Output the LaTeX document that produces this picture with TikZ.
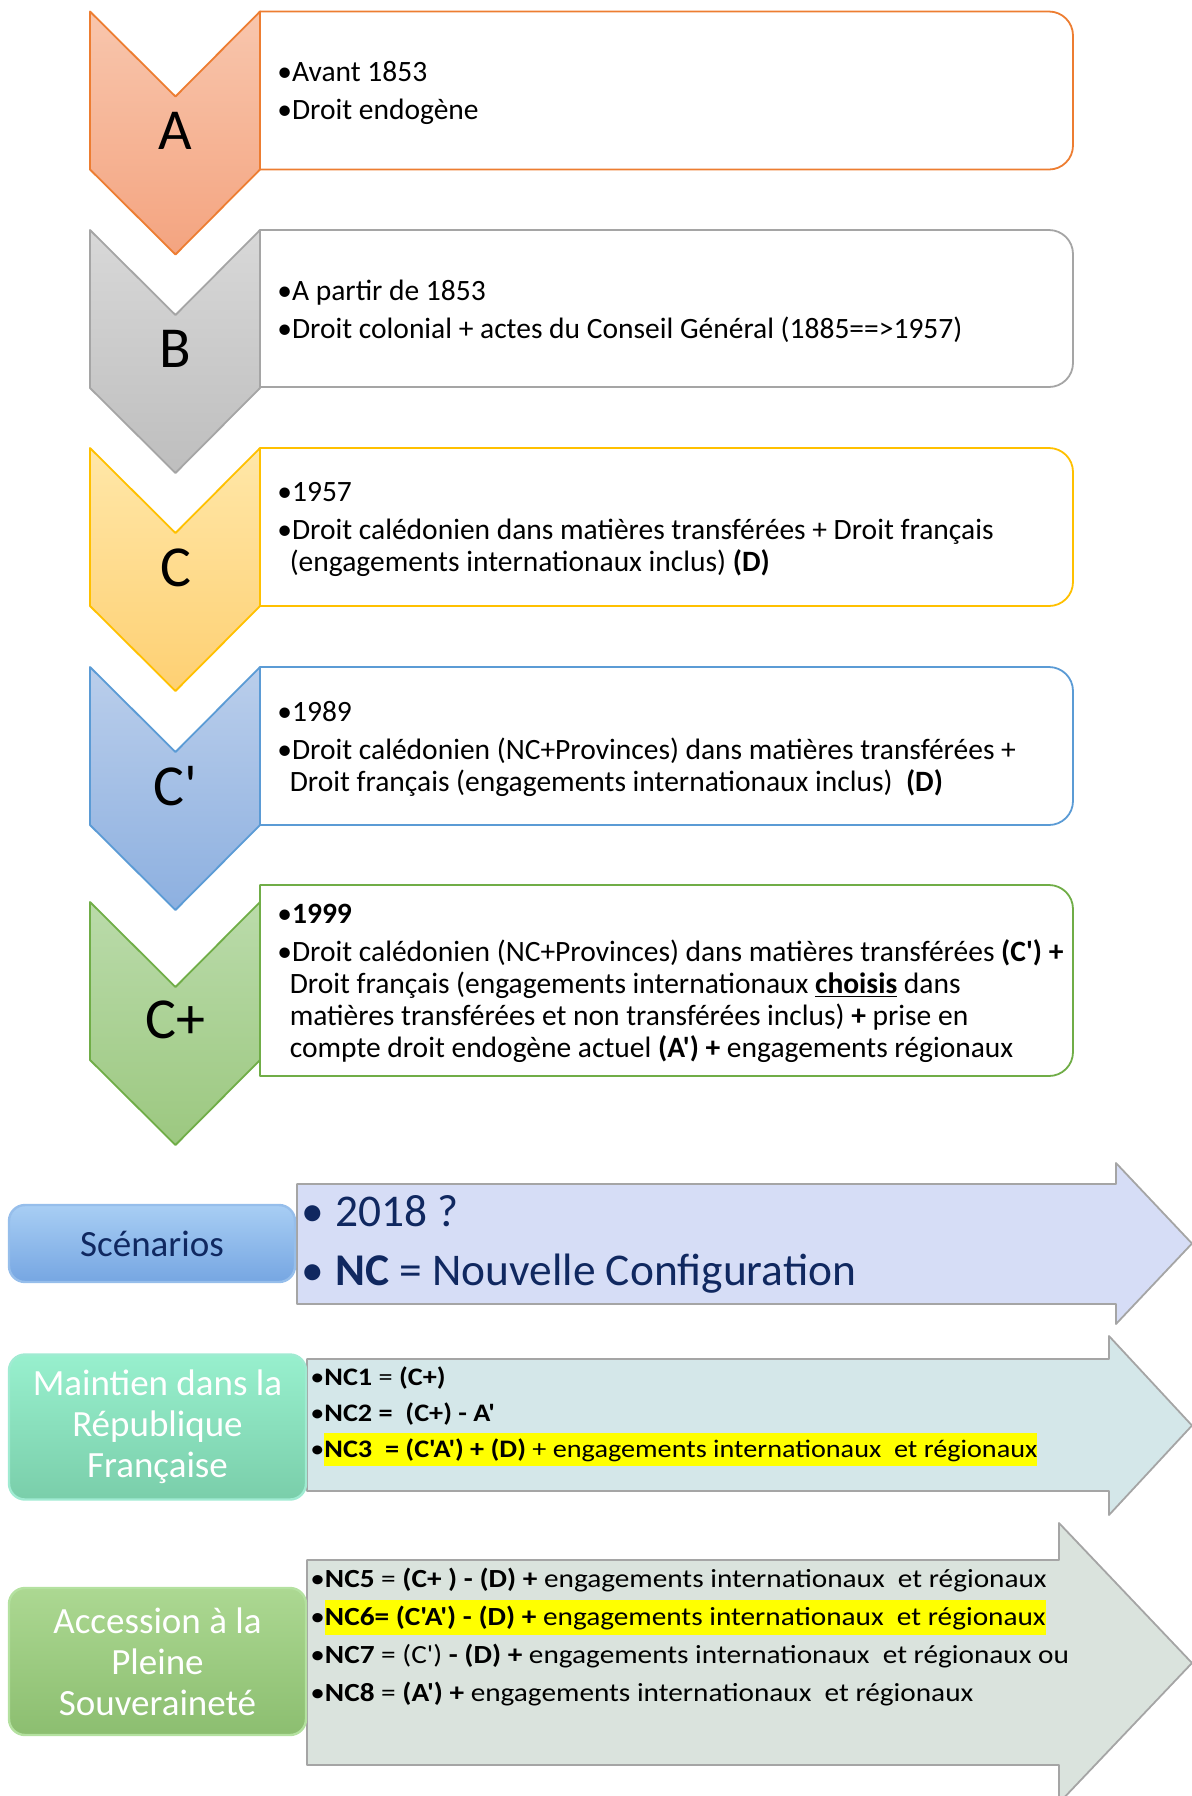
\documentclass[tikz,border=0pt]{standalone}
\usepackage{fontspec}
\setmainfont{Carlito}[Ligatures=TeXOff]
\newfontfamily\largefont{Carlito}[Ligatures=TeXOff, FakeStretch=1.12]
\usetikzlibrary{positioning}

\definecolor{orangeH}{RGB}{248,198,173}
\definecolor{orangeB}{RGB}{244,164,128}
\definecolor{orangeT}{RGB}{237,125,49}
\definecolor{grisH}{RGB}{216,216,216}
\definecolor{grisB}{RGB}{190,190,190}
\definecolor{grisT}{RGB}{165,165,165}
\definecolor{jauneH}{RGB}{255,231,168}
\definecolor{jauneB}{RGB}{254,208,115}
\definecolor{jauneT}{RGB}{255,192,0}
\definecolor{bleuH}{RGB}{186,206,235}
\definecolor{bleuB}{RGB}{141,176,224}
\definecolor{bleuT}{RGB}{91,155,213}
\definecolor{vertH}{RGB}{186,219,170}
\definecolor{vertB}{RGB}{156,200,128}
\definecolor{vertT}{RGB}{112,173,71}
\definecolor{scenH}{RGB}{168,206,244}
\definecolor{scenB}{RGB}{118,166,226}
\definecolor{scenT}{RGB}{150,190,235}
\definecolor{mentH}{RGB}{152,240,206}
\definecolor{mentB}{RGB}{122,206,170}
\definecolor{mentT}{RGB}{160,235,210}
\definecolor{accH}{RGB}{172,216,146}
\definecolor{accB}{RGB}{140,190,112}
\definecolor{accT}{RGB}{180,225,160}
\definecolor{marine}{RGB}{16,40,96}
\definecolor{lavande}{RGB}{214,221,246}
\definecolor{turquoise}{RGB}{212,231,233}
\definecolor{sauge}{RGB}{218,227,221}
\definecolor{bordgris}{RGB}{165,165,165}
\definecolor{surligne}{RGB}{255,255,0}

% chevron: haut, couleur haut, couleur bas, contour
\newcommand{\chevron}[4]{%
  \draw[#4, line width=0.9pt, top color=#2, bottom color=#3]
    (90,#1) -- (175.5,#1+85) -- (260,#1) -- (260,#1+158) -- (175.5,#1+243) -- (90,#1+158) -- cycle;}
% boite a droite du chevron: haut, bas, contour
\newcommand{\boite}[3]{%
  \draw[#3, line width=0.9pt, fill=white]
    (260,#1) -- (1049,#1) arc[start angle=90, end angle=0, radius=12pt]
    -- (1073,#2-24) arc[start angle=0, end angle=-90, radius=12pt] -- (260,#2) -- cycle;}
\newcommand{\puce}{\textbullet}
\newcommand{\suite}{\hspace*{0.42em}}
\newcommand{\surl}[1]{{\setlength{\fboxsep}{0pt}\colorbox{surligne}{\rule[-0.35em]{0pt}{1.32em}#1}}}

\begin{document}
\begin{tikzpicture}[x=0.5pt, y=-0.5pt, line join=round,
    every node/.style={inner sep=0pt},
    lettre/.style={font=\fontsize{29}{32}\selectfont},
    texte/.style={anchor=north west, align=left, font=\fontsize{14.75}{16}\selectfont},
    petit/.style={anchor=north west, align=left, font=\largefont\fontsize{13.07}{18.9}\selectfont},
    fleche/.style={draw=bordgris, line width=0.9pt},
    etiquette/.style={rounded corners=8pt, draw=#1, line width=1.2pt, align=center,
      text=white, font=\fontsize{18.5}{20.5}\selectfont}]
  \useasboundingbox (0,0) rectangle (1192,1796);
  \clip (0,0) rectangle (1192,1796);

  \boite{11.5}{169.5}{orangeT}
  \boite{230}{387}{grisT}
  \boite{448}{606}{jauneT}
  \boite{667}{825}{bleuT}
  \boite{885}{1076}{vertT}

  \chevron{11.5}{orangeH}{orangeB}{orangeT}
  \chevron{230}{grisH}{grisB}{grisT}
  \chevron{448}{jauneH}{jauneB}{jauneT}
  \chevron{667}{bleuH}{bleuB}{bleuT}
  \chevron{902}{vertH}{vertB}{vertT}

  \node[lettre] (lA) at (175.5,131) {A};
  \node[lettre] (lB) at (175.5,349) {B};
  \node[lettre] (lC) at (175.5,568) {C};
  \node[lettre] (lCp) at (175.5,786) {C'};
  \node[lettre] (lCplus) at (175.5,1020) {C+};

  \node[texte] (tA) at (277,61) {\puce Avant 1853\\[3pt]\puce Droit endogène};
  \node[texte] (tB) at (277,280) {\puce A partir de 1853\\[3pt]\puce Droit colonial + actes du Conseil Général (1885==>1957)};
  \node[texte] (tC) at (277,482) {\puce 1957\\[3pt]\puce Droit calédonien dans matières transférées + Droit français\\
    \suite(engagements internationaux inclus) \textbf{(D)}};
  \node[texte] (tCp) at (277,701) {\puce 1989\\[3pt]\puce Droit calédonien (NC+Provinces) dans matières transférées +\\
    \suite Droit français (engagements internationaux inclus)~~\textbf{(D)}};
  \node[texte] (tCplus) at (277,904) {\puce\textbf{1999}\\[3pt]\puce Droit calédonien (NC+Provinces) dans matières transférées \textbf{(C') +}\\
    \suite Droit français (engagements internationaux \underline{\textbf{choisis}} dans\\
    \suite matières transférées et non transférées inclus) \textbf{+} prise en\\
    \suite compte droit endogène actuel \textbf{(A') +} engagements régionaux};

  % scenarios
  \draw[fleche, fill=lavande] (297,1184) -- (1116,1184) -- (1116,1163) -- (1192,1243.5) -- (1116,1324) -- (1116,1304) -- (297,1304) -- cycle;
  \draw[fleche, fill=turquoise] (307,1359) -- (1109,1359) -- (1109,1336) -- (1192,1425.5) -- (1109,1515) -- (1109,1491) -- (307,1491) -- cycle;
  \draw[fleche, fill=sauge] (307,1560) -- (1059,1560) -- (1059,1523) -- (1192,1663) -- (1059,1803) -- (1059,1765) -- (307,1765) -- cycle;

  \node[etiquette=scenT, top color=scenH, bottom color=scenB, text=marine,
    minimum width=143pt, minimum height=38.5pt] (scen) at (152,1243.5) {Scénarios};
  \node[etiquette=mentT, top color=mentH, bottom color=mentB,
    minimum width=148.5pt, minimum height=72.5pt] (maint) at (157.5,1427) {Maintien dans la\\République\\Française};
  \node[etiquette=accT, top color=accH, bottom color=accB,
    minimum width=148.5pt, minimum height=73.5pt] (acces) at (157.5,1661.5) {Accession à la\\Pleine\\Souveraineté};

  \node[anchor=north west, align=left, text=marine, font=\fontsize{22.7}{29.5}\selectfont] (tScen) at (301,1195)
    {\makebox[0.75em][l]{\puce}2018 ?\\\makebox[0.75em][l]{\puce}\textbf{NC} = Nouvelle Configuration};
  \node[petit, font=\largefont\fontsize{12.6}{18}\selectfont] (tMaint) at (310,1366) {\puce\textbf{NC1} = \textbf{(C+)}\\
    \puce\textbf{NC2 =~~(C+) - A'}\\
    \puce\surl{\textbf{NC3~~= (C'A') + (D)} + engagements internationaux~~et régionaux}};
  \node[petit] (tAcces) at (310,1568) {\puce\textbf{NC5} = \textbf{(C+ ) - (D) +} engagements internationaux~~et régionaux\\
    \puce\surl{\textbf{NC6= (C'A') - (D) +} engagements internationaux~~et régionaux}\\
    \puce\textbf{NC7} = (C') \textbf{- (D) +} engagements internationaux~~et régionaux ou\\
    \puce\textbf{NC8} = \textbf{(A') +} engagements internationaux~~et régionaux};
\end{tikzpicture}
\end{document}
